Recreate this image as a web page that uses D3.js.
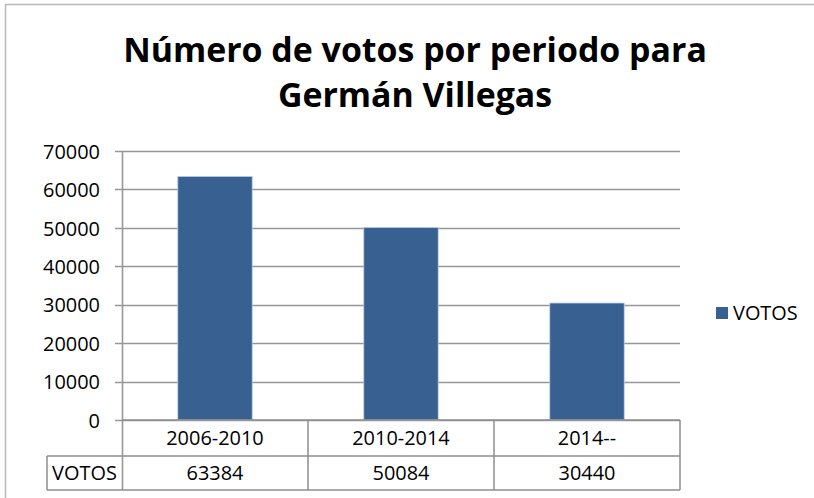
<!DOCTYPE html>
<html><head><meta charset="utf-8">
<script src="https://cdn.jsdelivr.net/npm/d3@7/dist/d3.min.js"></script>
<style>body{margin:0;background:#fff}svg{display:block}text{font-family:"Open Sans",sans-serif;fill:#000}</style>
</head><body>
<svg id="c" width="814" height="498"></svg>
<script>
const categories = ["2006-2010", "2010-2014", "2014--"];
const seriesName = "VOTOS";
const values = [63384, 50084, 30440];
const yTicks = [0, 10000, 20000, 30000, 40000, 50000, 60000, 70000];
const titleLines = ["Número de votos por periodo para", "Germán Villegas"];

(function () {
const svg = d3.select("#c");
const barColor = "#386090";
const gridColor = "#979797";
const tableColor = "#8e8e8e";

// outer chart border
svg.append("rect").attr("x", 5.5).attr("y", 4.5).attr("width", 820).attr("height", 520)
  .attr("fill", "none").attr("stroke", "#b8b8b8").attr("stroke-width", 1.5);

const pLeft = 122, pRight = 680, pTop = 151, zero = 420;
const row1 = 456, row2 = 490, tableLeft = 47;

const x = d3.scaleBand().domain(categories).range([pLeft, pRight]).paddingInner(0.6).paddingOuter(0.3);
const xCell = d3.scaleBand().domain(categories).range([pLeft, pRight]);
const y = d3.scaleLinear().domain([0, 70000]).range([zero, pTop]);

function fit(sel, target) {
  const n = sel.node();
  const w = n.getComputedTextLength();
  const fs = parseFloat(sel.attr("font-size"));
  sel.attr("font-size", fs * target / w);
  return fs * target / w;
}

// title
const t1 = svg.append("text").attr("x", 415).attr("y", 62).attr("text-anchor", "middle")
  .attr("font-weight", "bold").attr("font-size", 32).text(titleLines[0]);
const tfs = fit(t1, 584);
svg.append("text").attr("x", 415).attr("y", 107).attr("text-anchor", "middle")
  .attr("font-weight", "bold").attr("font-size", tfs).text(titleLines[1]);

// gridlines
svg.append("g").selectAll("line").data(yTicks).join("line")
  .attr("x1", pLeft - 7).attr("x2", pRight)
  .attr("y1", d => Math.round(y(d)) + 0.5).attr("y2", d => Math.round(y(d)) + 0.5)
  .attr("stroke", gridColor).attr("stroke-width", 1.6);

// y axis labels via d3 axis
const yAxis = d3.axisLeft(y).tickValues(yTicks).tickSize(0).tickPadding(22).tickFormat(d3.format("d"));
const ya = svg.append("g").attr("transform", `translate(${pLeft},0)`).call(yAxis);
ya.select(".domain").remove();
ya.selectAll("text").attr("font-family", "Open Sans").attr("font-size", 17).attr("fill", "#000").attr("dy", "0.36em");
const probe = ya.selectAll("text").filter(d => d === 70000);
const lfs = fit(probe, 57);
ya.selectAll("text").attr("font-size", lfs);

// bars
svg.append("g").selectAll("rect").data(values).join("rect")
  .attr("x", (d, i) => x(categories[i]))
  .attr("width", x.bandwidth())
  .attr("y", d => y(d))
  .attr("height", d => y(0) - y(d))
  .attr("fill", barColor)
  .attr("stroke", "#b9cde5").attr("stroke-width", 0.8);

// vertical axis line (extends through table)
svg.append("line").attr("x1", pLeft + 0.5).attr("x2", pLeft + 0.5).attr("y1", pTop).attr("y2", row2)
  .attr("stroke", gridColor).attr("stroke-width", 1.6);

// table
const tg = svg.append("g").attr("stroke", tableColor).attr("stroke-width", 1.5).attr("fill", "none");
tg.append("line").attr("x1", pLeft).attr("x2", pRight).attr("y1", zero).attr("y2", zero);
tg.append("line").attr("x1", tableLeft).attr("x2", pRight).attr("y1", row1).attr("y2", row1);
tg.append("line").attr("x1", tableLeft).attr("x2", pRight).attr("y1", row2).attr("y2", row2);
tg.append("line").attr("x1", tableLeft).attr("x2", tableLeft).attr("y1", row1).attr("y2", row2);
tg.selectAll("line.v").data(categories).join("line").attr("class", "v")
  .attr("x1", d => xCell(d) + xCell.bandwidth()).attr("x2", d => xCell(d) + xCell.bandwidth())
  .attr("y1", zero).attr("y2", row2);

svg.append("g").selectAll("text").data(categories).join("text")
  .attr("x", d => xCell(d) + xCell.bandwidth() / 2).attr("y", (zero + row1) / 2)
  .attr("dy", "0.36em").attr("text-anchor", "middle").attr("font-size", lfs).text(d => d);
svg.append("g").selectAll("text").data(values).join("text")
  .attr("x", (d, i) => xCell(categories[i]) + xCell.bandwidth() / 2).attr("y", (row1 + row2) / 2)
  .attr("dy", "0.36em").attr("text-anchor", "middle").attr("font-size", lfs).text(d => d);
svg.append("text").attr("x", (tableLeft + pLeft) / 2).attr("y", (row1 + row2) / 2)
  .attr("dy", "0.36em").attr("text-anchor", "middle").attr("font-size", lfs).text(seriesName);

// legend
svg.append("rect").attr("x", 716).attr("y", 307).attr("width", 12).attr("height", 12).attr("fill", barColor);
svg.append("text").attr("x", 733).attr("y", 313).attr("dy", "0.36em").attr("font-size", lfs).text(seriesName);
})();
</script>
</body></html>
